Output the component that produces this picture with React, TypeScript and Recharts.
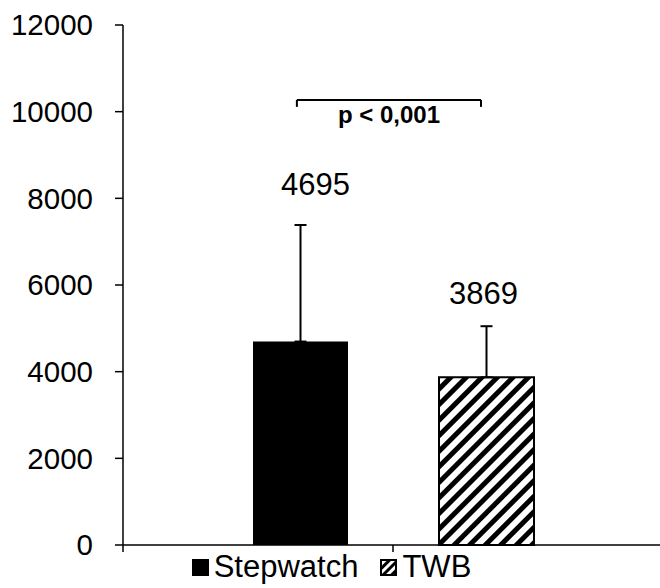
import React from 'react';
import { BarChart, Bar, XAxis, YAxis, ErrorBar, LabelList, Legend, ReferenceLine } from 'recharts';

const categories = ['Stepwatch', 'TWB'];
const means = [4695, 3869];
const sdUpper = [2690, 1180];
const yTicks = [0, 2000, 4000, 6000, 8000, 10000, 12000];
const xBoundaries = [0, 1, 2];
const pValueText = 'p < 0,001';
const bracketLevel = 10270;
const bracketFoot = 10110;
const bracketFrom = 0.644;
const bracketTo = 1.326;

const FONT = '"Liberation Sans", Arial, sans-serif';

const data = categories.map((c, i) => ({
  name: c,
  pos: i + 0.5,
  Stepwatch: i === 0 ? means[0] : null,
  TWB: i === 1 ? means[1] : null,
  swErr: i === 0 ? [0, sdUpper[0]] : null,
  twbErr: i === 1 ? [0, sdUpper[1]] : null,
}));

const makeValueLabel = (err: number, dx: number, gap: number) => (props: any) => {
  const { x, y, width, height, value } = props;
  if (value == null) return null;
  const pxPerUnit = height / value;
  const top = y - err * pxPerUnit;
  return (
    <text
      x={x + width / 2 + dx}
      y={top - gap}
      textAnchor="middle"
      dominantBaseline="central"
      fontSize={31}
      fontFamily={FONT}
      fill="#000"
    >
      {value}
    </text>
  );
};

const LegendContent = () => (
  <div
    style={{
      display: 'flex',
      justifyContent: 'center',
      alignItems: 'center',
      fontFamily: FONT,
      fontSize: 31,
      color: '#000',
      lineHeight: '32px',
    }}
  >
    <span style={{ display: 'flex', alignItems: 'center', marginRight: 22 }}>
      <svg width={17} height={17} style={{ marginRight: 5, flex: 'none' }}>
        <rect x={0} y={0} width={17} height={17} fill="#000" />
      </svg>
      <span>{categories[0]}</span>
    </span>
    <span style={{ display: 'flex', alignItems: 'center' }}>
      <svg width={17} height={17} style={{ marginRight: 5, flex: 'none' }}>
        <defs>
          <pattern id="hatchLegend" patternUnits="userSpaceOnUse" width={6} height={6} patternTransform="rotate(45)">
            <rect x={0} y={0} width={3} height={6} fill="#000" />
          </pattern>
        </defs>
        <rect x={1} y={1} width={15} height={15} fill="url(#hatchLegend)" stroke="#000" strokeWidth={2} />
      </svg>
      <span>{categories[1]}</span>
    </span>
  </div>
);

export default function App() {
  return (
    <div style={{ position: 'absolute', left: 0, top: 0, width: 660, height: 588, overflow: 'hidden', background: '#fff' }}>
      <BarChart
        width={663}
        height={588}
        data={data}
        margin={{ top: 25, right: 0, bottom: 42, left: 0 }}
        barSize={95}
        barGap={-11}
      >
        <defs>
          <pattern id="hatch" patternUnits="userSpaceOnUse" width={11} height={11} patternTransform="rotate(45)">
            <rect x={0} y={0} width={5} height={11} fill="#000" />
          </pattern>
        </defs>
        <XAxis
          dataKey="pos"
          type="number"
          domain={[0, 2]}
          ticks={xBoundaries}
          interval={0}
          tickFormatter={() => ''}
          tickSize={7}
          height={1}
          axisLine={{ stroke: '#000', strokeWidth: 1.5 }}
          tickLine={{ stroke: '#000', strokeWidth: 1.5 }}
          allowDataOverflow
        />
        <YAxis
          domain={[0, 12000]}
          ticks={yTicks}
          interval={0}
          width={123}
          tickSize={8}
          tickMargin={22}
          axisLine={{ stroke: '#000', strokeWidth: 1.5 }}
          tickLine={{ stroke: '#000', strokeWidth: 1.5 }}
          tick={{ fill: '#000', fontSize: 29.5, fontFamily: FONT }}
        />
        <Legend
          layout="horizontal"
          verticalAlign="middle"
          align="center"
          wrapperStyle={{ left: 0, top: 551, width: 663 }}
          content={() => <LegendContent />}
        />
        <Bar dataKey="TWB" fill="url(#hatch)" stroke="#000" strokeWidth={2} isAnimationActive={false}>
          <ErrorBar dataKey="twbErr" width={6} stroke="#000" strokeWidth={2} direction="y" />
          <LabelList dataKey="TWB" content={makeValueLabel(sdUpper[1], -3, 33)} />
        </Bar>
        <Bar dataKey="Stepwatch" fill="#000" isAnimationActive={false}>
          <ErrorBar dataKey="swErr" width={6} stroke="#000" strokeWidth={2} direction="y" />
          <LabelList dataKey="Stepwatch" content={makeValueLabel(sdUpper[0], 15, 40)} />
        </Bar>
        <ReferenceLine
          segment={[{ x: bracketFrom, y: bracketLevel }, { x: bracketTo, y: bracketLevel }]}
          stroke="#000"
          strokeWidth={2}
          label={{ value: pValueText, position: 'bottom', offset: 6, fontSize: 24, fontWeight: 'bold', fill: '#000', fontFamily: FONT }}
        />
        <ReferenceLine
          segment={[{ x: bracketFrom, y: bracketLevel }, { x: bracketFrom, y: bracketFoot }]}
          stroke="#000"
          strokeWidth={2}
        />
        <ReferenceLine
          segment={[{ x: bracketTo, y: bracketLevel }, { x: bracketTo, y: bracketFoot }]}
          stroke="#000"
          strokeWidth={2}
        />
      </BarChart>
    </div>
  );
}
